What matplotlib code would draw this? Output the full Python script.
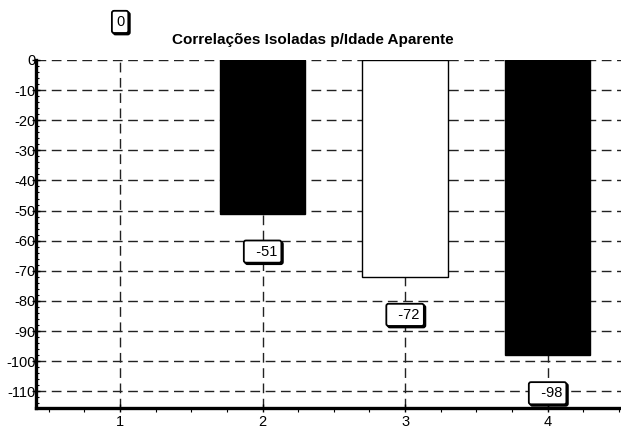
import matplotlib.pyplot as plt
from matplotlib.ticker import MultipleLocator

plt.rcParams['font.family'] = ['Liberation Sans', 'DejaVu Sans']
plt.rcParams['axes.unicode_minus'] = False

categorias = [1, 2, 3, 4]
valores = [0, -51, -72, -98]
cores = ['white', 'black', 'white', 'black']
yticks = list(range(0, -111, -10))
titulo = "Correlações Isoladas p/Idade Aparente"

fig = plt.figure(figsize=(6.21, 4.34), dpi=100)
ax = fig.add_axes([0.058, 0.06, 0.95, 0.802])

# grade tracejada (fica atrás das barras)
ax.set_axisbelow(True)
ax.grid(True, which='major', linestyle=(0, (7, 4)), color='#222222', linewidth=1.0)

larguras = [0 if v == 0 else 1.0 for v in valores]
ax.bar(categorias, valores, width=0.6, color=cores, edgecolor='black', linewidth=larguras)

# rótulos com caixa (e sombra), 38 px afastados do fim da barra
px = 72 / 100
for x, v in zip(categorias, valores):
    dy = 38 if v >= 0 else -38
    txt = f"{v}" if v >= 0 else f"  {v}"
    for sx, sy, fc, z in [(1.5, -1.5, 'black', 6), (0, 0, 'white', 7)]:
        ax.annotate(txt, xy=(x, v), xytext=(sx * px, (dy + sy) * px), textcoords='offset points',
                    ha='center', va='center', fontsize=10.5, annotation_clip=False, zorder=z,
                    bbox=dict(boxstyle='round,pad=0.28,rounding_size=0.15', fc=fc,
                              ec='black', lw=1.3))

ax.set_xlim(0.41, 4.55)
ax.set_ylim(-115.5, 0)
ax.set_xticks(categorias)
ax.set_yticks(yticks)
ax.xaxis.set_minor_locator(MultipleLocator(0.25))
ax.yaxis.set_minor_locator(MultipleLocator(2))

for s in ['top', 'right']:
    ax.spines[s].set_visible(False)
ax.spines['left'].set_linewidth(2.4)
ax.spines['bottom'].set_linewidth(2.4)

ax.tick_params(axis='y', which='major', direction='inout', length=6, width=1, pad=-3, labelsize=10.5)
ax.tick_params(axis='y', which='minor', direction='in', length=2, width=0.8)
ax.tick_params(axis='x', which='major', direction='inout', length=6, width=1, pad=2, labelsize=10.5)
ax.tick_params(axis='x', which='minor', direction='out', length=3, width=0.8)

fig.text(0.504, 0.908, titulo, ha='center', va='center', fontsize=11, fontweight='bold')

fig.savefig('out.png', dpi=100)
